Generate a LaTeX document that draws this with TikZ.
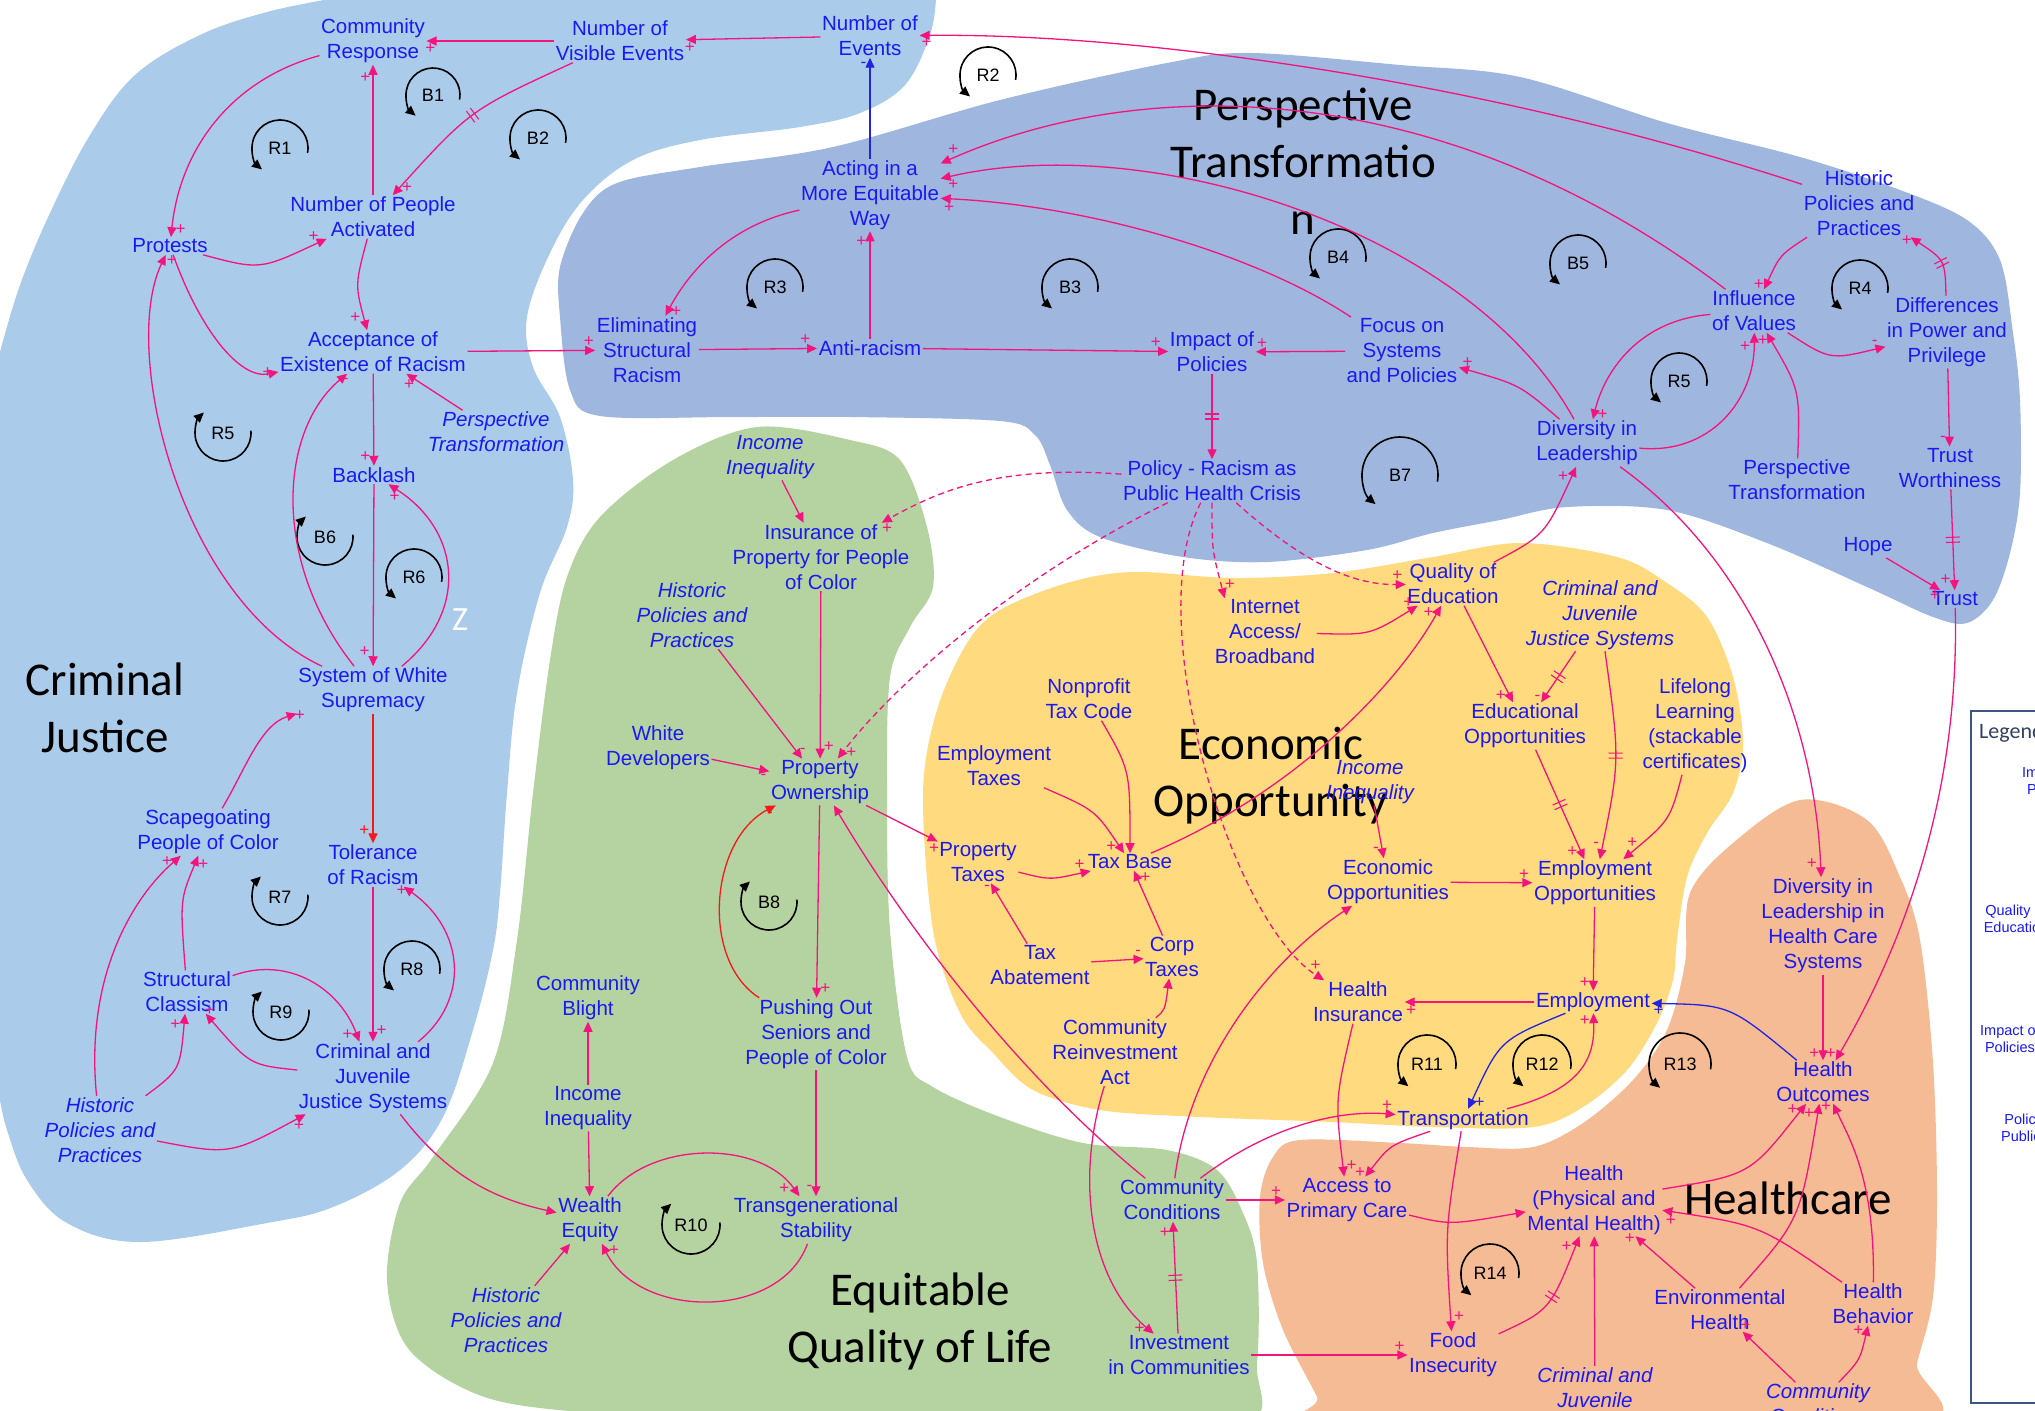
\documentclass[tikz,border=0pt]{standalone}
\usepackage{fontspec}
\usetikzlibrary{arrows.meta,decorations.markings}
\newfontfamily\nodefont{Liberation Sans}
\newfontfamily\titlefont{Carlito}

\definecolor{vblue}{RGB}{25,25,245}
\definecolor{lkpink}{RGB}{245,20,125}
\definecolor{lkblue}{RGB}{35,35,225}
\definecolor{lkred}{RGB}{245,25,25}
\definecolor{cjfill}{RGB}{170,203,233}
\definecolor{ptfill}{RGB}{159,182,222}
\definecolor{eqfill}{RGB}{180,211,160}
\definecolor{eofill}{RGB}{255,218,126}
\definecolor{hcfill}{RGB}{244,187,148}
\definecolor{lgframe}{RGB}{60,85,130}
\definecolor{lgtext}{RGB}{50,65,95}

\tikzset{
  v/.style={text=vblue, font=\nodefont\fontsize{20.5}{25}\selectfont, align=center, inner sep=1.5pt},
  vi/.style={v, font=\nodefont\itshape\fontsize{20.5}{25}\selectfont},
  ttl/.style={text=black, font=\titlefont\fontsize{47}{57}\selectfont, align=center, inner sep=0pt},
  lpl/.style={text=black, font=\nodefont\fontsize{18}{18}\selectfont, inner sep=0pt},
  lpa/.style={draw=black, line width=1.6pt, -{Triangle[length=10pt,width=9pt]}},
  lk/.style={draw=lkpink, line width=1.3pt, -{Triangle[length=10pt,width=9pt]}},
  lkb/.style={lk, draw=lkblue},
  lkr/.style={lk, draw=lkred},
  dsh/.style={dash pattern=on 6pt off 4pt},
  sg/.style={text=lkpink, font=\nodefont\fontsize{17}{17}\selectfont, inner sep=1pt},
  sgb/.style={sg, text=lkblue},
  dl/.style={postaction={decorate, decoration={markings, mark=at position #1 with {\draw[-, solid, draw=lkpink, line width=1.1pt] (-2.5pt,-7pt) -- (-2.5pt,7pt) (2.5pt,-7pt) -- (2.5pt,7pt);}}}},
  dl/.default=0.5,
  lgt/.style={text=vblue, font=\nodefont\fontsize{14.5}{17}\selectfont, align=center, inner sep=0pt},
}

% loop markers: counter-clockwise and clockwise circular arrows around a label
\newcommand\LoopCCW[5]{%
  \node[lpl] (#1) at (#2,#3) {#4};
  \draw[lpa] (#2,#3) ++(10:#5) arc[start angle=10, end angle=-230, radius=#5];}
\newcommand\LoopCW[5]{%
  \node[lpl] (#1) at (#2,#3) {#4};
  \draw[lpa] (#2,#3) ++(-5:#5) arc[start angle=-5, end angle=227, radius=#5];}

\begin{document}
\begin{tikzpicture}[x=1pt,y=-1pt]
\useasboundingbox (0,0) rectangle (2035,1411);
\clip (0,0) rectangle (2035,1411);
\fill[white] (0,0) rectangle (2035,1411);

% ---- sector backgrounds ----
\fill[cjfill] plot[smooth, tension=0.6] coordinates {
 (0,352) (20,285) (50,213) (90,135) (135,75) (200,35) (267,12) (335,-2)}
 -- (335,-25) -- (936,-25) --
 plot[smooth, tension=0.6] coordinates {
 (936,-2) (930,35) (905,85) (860,113) (800,127) (700,140) (633,160) (583,200) (550,253)
 (527,317) (533,367) (560,417) (573,480) (567,527) (540,593) (517,693) (507,793) (500,893)
 (493,950) (473,1030) (443,1117) (400,1170) (333,1207) (267,1223) (140,1242) (67,1223)
 (27,1180) (7,1130) (0,1100)}
 -- (-25,1100) -- (-25,352) -- cycle;

\fill[ptfill] plot[smooth cycle, tension=0.55] coordinates {
 (1000,100) (1167,63) (1250,53) (1400,65) (1520,77) (1667,123) (1800,157) (1900,190)
 (1967,220) (2000,260) (2013,333) (2020,400) (2020,493) (2010,553) (1993,600) (1967,623)
 (1933,617) (1867,587) (1767,543) (1667,510) (1567,507) (1500,520) (1433,533) (1367,550)
 (1267,562) (1183,557) (1100,537) (1067,510) (1050,465) (1035,435) (1000,421) (850,417)
 (733,417) (600,416) (570,390) (560,317) (560,267) (583,213) (617,183) (700,167) (833,147)};

\fill[eqfill] plot[smooth cycle, tension=0.55] coordinates {
 (757,427) (850,440) (900,460) (927,527) (933,587) (910,627) (890,677) (887,793) (890,930)
 (907,1057) (933,1087) (1000,1117) (1083,1143) (1167,1150) (1217,1170) (1243,1213)
 (1257,1263) (1257,1363) (1240,1425) (1000,1422) (700,1418) (540,1408) (467,1390)
 (407,1347) (387,1280) (400,1203) (433,1157) (493,1063) (517,940) (533,793) (550,660)
 (567,577) (600,517) (673,460)};

\fill[eofill] plot[smooth cycle, tension=0.55] coordinates {
 (1000,610) (1067,583) (1133,572) (1233,578) (1333,573) (1433,557) (1520,543) (1617,557)
 (1667,583) (1707,617) (1733,677) (1743,743) (1733,793) (1707,833) (1687,877) (1677,940)
 (1673,980) (1657,1023) (1627,1070) (1583,1107) (1533,1127) (1433,1127) (1333,1122)
 (1200,1117) (1100,1110) (1033,1090) (993,1053) (960,1013) (933,930) (923,793) (937,710)
 (967,643)};

\fill[hcfill] plot[smooth cycle, tension=0.55] coordinates {
 (1800,800) (1867,820) (1900,877) (1920,940) (1933,1063) (1937,1197) (1933,1297)
 (1917,1363) (1900,1430) (1330,1430) (1317,1397) (1283,1330) (1263,1263) (1260,1197)
 (1273,1157) (1300,1140) (1400,1143) (1467,1147) (1533,1147) (1583,1123) (1633,1080)
 (1667,1030) (1685,963) (1690,893) (1733,843)};

% ---- sector titles ----
\node[ttl] (tcj) at (105,708) {Criminal\\Justice};
\node[ttl] (tpt) at (1303,161) {Perspective\\Transformatio\\n};
\node[ttl] (teq) at (920,1321) {Equitable\\Quality of Life};
\node[ttl] (teo) at (1271,776) {Economic\\Opportunity};
\node[ttl] (thc) at (1788,1198) {Healthcare};
\node[text=white, font=\titlefont\fontsize{34}{34}\selectfont, inner sep=0pt] (zmark) at (460,620) {Z};

% ---- legend panel ----
\draw[lgframe, line width=2pt] (1971,711) rectangle (2060,1403);
\node[anchor=west, text=lgtext, font=\titlefont\fontsize{22}{22}\selectfont, inner sep=0pt] (lgh) at (1979,733) {Legend};
\node[lgt] (lg1) at (2052,781) {Impact of\\Policies};
\node[lgt] (lg2) at (2016,919) {Quality of\\Education};
\node[lgt] (lg3) at (2010,1039) {Impact of\\Policies};
\node[lgt] (lg4) at (2064,1128) {Policy - Racism as\\Public Health Crisis};

% ---- feedback loop markers ----
\LoopCCW{lR1}{280}{148}{R1}{28}
\LoopCCW{lB1}{433}{95}{B1}{27}
\LoopCCW{lB2}{538}{138}{B2}{28}
\LoopCCW{lR2}{988}{75}{R2}{28}
\LoopCCW{lR3}{775}{287}{R3}{28}
\LoopCCW{lB3}{1070}{287}{B3}{28}
\LoopCCW{lB4}{1338}{257}{B4}{28}
\LoopCCW{lB5}{1578}{263}{B5}{28}
\LoopCCW{lR4}{1860}{288}{R4}{28}
\LoopCCW{lR5b}{1679}{381}{R5}{28}
\LoopCCW{lB7}{1400}{475}{B7}{38}
\LoopCCW{lR6}{414}{577}{R6}{28}
\LoopCCW{lR8}{412}{969}{R8}{28}
\LoopCCW{lR11}{1427}{1064}{R11}{29}
\LoopCCW{lR12}{1542}{1064}{R12}{29}
\LoopCCW{lR13}{1680}{1064}{R13}{31}
\LoopCCW{lR14}{1490}{1273}{R14}{29}
\LoopCW{lR5a}{223}{433}{R5}{28}
\LoopCW{lB6}{325}{537}{B6}{28}
\LoopCW{lR7}{280}{897}{R7}{28}
\LoopCW{lR9}{281}{1012}{R9}{28}
\LoopCW{lB8}{769}{902}{B8}{28}
\LoopCW{lR10}{691}{1225}{R10}{29}

% ---- variables ----
\node[v] (cr) at (373,41) {Community\\Response};
\node[v] (nve) at (620,41) {Number of\\Visible Events};
\node[v] (noe) at (870,36) {Number of\\Events};
\node[v] (npa) at (373,217) {Number of People\\Activated};
\node[v] (prot) at (170,246) {Protests};
\node[v] (acc) at (373,352) {Acceptance of\\Existence of Racism};
\node[vi] (ptl) at (496,432) {Perspective\\Transformation};
\node[v] (bl) at (374,475) {Backlash};
\node[v] (sws) at (373,690) {System of White\\Supremacy};
\node[v] (scp) at (208,832) {Scapegoating\\People of Color};
\node[v] (tol) at (373,865) {Tolerance\\of Racism};
\node[v] (sc) at (187,992) {Structural\\Classism};
\node[v] (cjj) at (373,1078) {Criminal and\\Juvenile\\Justice Systems};
\node[vi] (hpl) at (100,1130) {Historic\\Policies and\\Practices};
\node[v] (act) at (870,195) {Acting in a\\More Equitable\\Way};
\node[v] (esr) at (647,350) {Eliminating\\Structural\\Racism};
\node[v] (ar) at (870,348) {Anti-racism};
\node[v] (imp) at (1212,352) {Impact of\\Policies};
\node[v] (foc) at (1402,351) {Focus on\\Systems\\and Policies};
\node[v] (pol) at (1212,481) {Policy - Racism as\\Public Health Crisis};
\node[v] (hpt) at (1859,203) {Historic\\Policies and\\Practices};
\node[v] (inf) at (1754,311) {Influence\\of Values};
\node[v] (dpp) at (1947,332) {Differences\\in Power and\\Privilege};
\node[v] (dil) at (1587,443) {Diversity in\\Leadership};
\node[v] (ptr) at (1797,480) {Perspective\\Transformation};
\node[v] (tw) at (1950,468) {Trust\\Worthiness};
\node[v] (hope) at (1868,547) {Hope};
\node[v] (trust) at (1955,599) {Trust};
\node[vi] (ii1) at (770,457) {Income\\Inequality};
\node[v] (ins) at (821,557) {Insurance of\\Property for People\\of Color};
\node[vi] (hpg) at (692,615) {Historic\\Policies and\\Practices};
\node[v] (wd) at (658,748) {White\\Developers};
\node[v] (po) at (820,782) {Property\\Ownership};
\node[v] (pso) at (816,1034) {Pushing Out\\Seniors and\\People of Color};
\node[v] (cb) at (588,998) {Community\\Blight};
\node[v] (ii2) at (588,1108) {Income\\Inequality};
\node[v] (we) at (590,1220) {Wealth\\Equity};
\node[v] (ts) at (816,1220) {Transgenerational\\Stability};
\node[vi] (hpb) at (506,1320) {Historic\\Policies and\\Practices};
\node[v] (cc) at (1172,1200) {Community\\Conditions};
\node[v] (ic) at (1179,1355) {Investment\\in Communities};
\node[v] (et) at (994,766) {Employment\\Taxes};
\node[v] (pt) at (978,862) {Property\\Taxes};
\node[v] (ntc) at (1089,699) {Nonprofit\\Tax Code};
\node[v] (tb) at (1130,862) {Tax Base};
\node[v] (ta) at (1040,965) {Tax\\Abatement};
\node[v] (ct) at (1172,957) {Corp\\Taxes};
\node[v] (cra) at (1115,1052) {Community\\Reinvestment\\Act};
\node[v] (iab) at (1265,632) {Internet\\Access/\\Broadband};
\node[v] (qe) at (1453,584) {Quality of\\Education};
\node[vi] (ii3) at (1370,782) {Income\\Inequality};
\node[v] (eco) at (1388,882) {Economic\\Opportunities};
\node[v] (edo) at (1525,726) {Educational\\Opportunities};
\node[vi] (cjy) at (1600,615) {Criminal and\\Juvenile\\Justice Systems};
\node[v] (ll) at (1695,726) {Lifelong\\Learning\\(stackable\\certificates)};
\node[v] (emo) at (1595,883) {Employment\\Opportunities};
\node[v] (emp) at (1593,1002) {Employment};
\node[v] (hi) at (1358,1002) {Health\\Insurance};
\node[v] (tr) at (1463,1120) {Transportation};
\node[v] (apc) at (1347,1200) {Access to\\Primary Care};
\node[v] (fi) at (1453,1355) {Food\\Insecurity};
\node[v] (dlh) at (1823,926) {Diversity in\\Leadership in\\Health Care\\Systems};
\node[v] (ho) at (1823,1082) {Health\\Outcomes};
\node[v] (hpm) at (1594,1200) {Health\\(Physical and\\Mental Health)};
\node[v] (eh) at (1720,1310) {Environmental\\Health};
\node[v] (hb) at (1873,1304) {Health\\Behavior};
\node[vi] (cjb) at (1595,1402) {Criminal and\\Juvenile\\Justice Systems};
\node[vi] (ccb) at (1818,1404) {Community\\Conditions};

% ---- criminal justice links ----
\draw[lk] (nve) -- (cr) node[sg,pos=.97,below=1pt]{+};
\draw[lk] (noe) -- (nve) node[sg,pos=.97,below=1pt]{+};
\draw[lk] (hpt) .. controls (1500,85) and (1150,33) .. (noe) node[sg,pos=.99,below=1pt]{+};
\draw[lk,dl] (nve) .. controls (470,110) .. (npa) node[sg,pos=.97,right=1pt]{+};
\draw[lk] (npa) -- (cr) node[sg,pos=.9,left=1pt]{+};
\draw[lk] (cr) .. controls (230,80) and (180,150) .. (prot) node[sg,pos=.97,right=2pt]{+};
\draw[lk] (prot) .. controls (260,270) .. (npa) node[sg,pos=.93,above=2pt]{+};
\draw[lk] (prot) .. controls (200,330) and (240,380) .. (acc) node[sg,pos=.98,left=2pt]{+};
\draw[lk] (npa) .. controls (355,285) .. (acc) node[sg,pos=.9,left=2pt]{+};
\draw[lk] (acc) -- (bl) node[sg,pos=.9,left=2pt]{+};
\draw[lk] (ptl) -- (acc) node[sg,pos=.95,below=2pt]{+};
\draw[lk] (acc) -- (esr) node[sg,pos=.95,above=2pt]{+};
\draw[lk] (sws) .. controls (180,600) and (120,350) .. (prot) node[sg,pos=.98,right=2pt]{+};
\draw[lk] (sws) .. controls (270,560) and (280,430) .. (acc) node[sg,pos=.96,right=2pt]{-};
\draw[lk] (bl) -- (sws) node[sg,pos=.92,left=2pt]{+};
\draw[lk] (sws) .. controls (470,610) and (460,530) .. (bl) node[sg,pos=.97,below=2pt]{+};
\draw[lkr] (sws) -- (tol) node[sg,pos=.9,left=2pt,text=lkred]{+};
\draw[lk] (scp) .. controls (245,770) and (260,725) .. (sws) node[sg,pos=.95,right=2pt]{+};
\draw[lk] (tol) -- (cjj) node[sg,pos=.93,right=2pt]{+};
\draw[lk] (cjj) .. controls (470,1000) and (465,930) .. (tol) node[sg,pos=.97,left=1pt]{+};
\draw[lk] (sc) .. controls (290,955) and (340,990) .. (cjj) node[sg,pos=.95,left=2pt]{+};
\draw[lk] (cjj) .. controls (250,1065) .. (sc) node[sg,pos=.97,above=1pt]{+};
\draw[lk] (sc) .. controls (180,900) .. (scp) node[sg,pos=.93,right=2pt]{+};
\draw[lk] (hpl) .. controls (85,980) and (130,900) .. (scp) node[sg,pos=.96,left=1pt]{+};
\draw[lk] (hpl) .. controls (180,1070) .. (sc) node[sg,pos=.93,left=2pt]{+};
\draw[lk] (hpl) .. controls (230,1155) .. (cjj) node[sg,pos=.97,below=1pt]{+};
\draw[lk] (cjj) .. controls (450,1180) and (500,1200) .. (we);

% ---- perspective transformation links ----
\draw[lkb] (act) -- (noe) node[sgb,pos=.93,left=2pt]{-};
\draw[lk] (act) .. controls (730,225) and (690,270) .. (esr) node[sg,pos=.97,right=2pt]{+};
\draw[lk] (esr) -- (ar) node[sg,pos=.9,above=2pt]{+};
\draw[lk] (ar) -- (act) node[sg,pos=.9,left=2pt]{+};
\draw[lk] (ar) -- (imp) node[sg,pos=.95,above=2pt]{+};
\draw[lk] (foc) -- (imp) node[sg,pos=.93,above=2pt]{+};
\draw[lk,dl] (imp) -- (pol);
\draw[lk] (inf) .. controls (1450,80) and (1150,70) .. (act) node[sg,pos=.98,above=2pt]{+};
\draw[lk] (dil) .. controls (1470,230) and (1150,130) .. (act) node[sg,pos=.98,below=2pt]{+};
\draw[lk] (foc) .. controls (1250,250) and (1080,205) .. (act) node[sg,pos=.98,below=2pt]{+};
\draw[lk] (dil) .. controls (1520,385) .. (foc) node[sg,pos=.95,above=1pt]{+};
\draw[lk] (hpt) .. controls (1780,255) .. (inf) node[sg,pos=.95,left=1pt]{+};
\draw[lk,dl=.45] (dpp) .. controls (1945,260) .. (hpt) node[sg,pos=.95,left=2pt]{+};
\draw[lk] (inf) .. controls (1830,360) .. (dpp) node[sg,pos=.93,above=2pt]{-};
\draw[lk] (dpp) -- (tw) node[sg,pos=.9,left=2pt]{-};
\draw[lk] (inf) .. controls (1640,320) and (1605,370) .. (dil) node[sg,pos=.97,right=2pt]{+};
\draw[lk] (dil) .. controls (1710,455) and (1755,400) .. (inf) node[sg,pos=.93,left=2pt]{+};
\draw[lk] (ptr) .. controls (1800,390) .. (inf) node[sg,pos=.95,left=2pt]{+};
\draw[lk,dl] (tw) -- (trust) node[sg,pos=.9,left=2pt]{+};
\draw[lk] (hope) -- (trust) node[sg,pos=.9,below=2pt]{+};
\draw[lk] (trust) .. controls (1960,800) and (1900,950) .. (ho) node[sg,pos=.98,left=2pt]{+};
\draw[lk] (dil) .. controls (1750,560) and (1815,720) .. (dlh) node[sg,pos=.97,left=2pt]{+};
\draw[lk] (qe) .. controls (1545,535) .. (dil) node[sg,pos=.95,left=2pt]{+};
\draw[lk,dsh] (pol) .. controls (1000,465) and (940,490) .. (ins) node[sg,pos=.97,below=2pt]{+};
\draw[lk,dsh] (pol) .. controls (1010,580) and (890,690) .. (po) node[sg,pos=.97,right=2pt]{+};
\draw[lk,dsh] (pol) .. controls (1140,620) and (1230,920) .. (hi) node[sg,pos=.97,above=2pt]{+};
\draw[lk,dsh] (pol) .. controls (1212,550) .. (iab.140) node[sg,pos=.9,right=2pt]{+};
\draw[lk,dsh] (pol) .. controls (1300,560) and (1350,585) .. (qe) node[sg,pos=.95,above=2pt]{+};

% ---- quality of life links ----
\draw[lk] (ii1) -- (ins);
\draw[lk] (ins) -- (po) node[sg,pos=.93,right=2pt]{+};
\draw[lk] (hpg) -- (po) node[sg,pos=.93,right=2pt]{-};
\draw[lk] (wd) -- (po) node[sg,pos=.9,below=2pt]{-};
\draw[lk] (po) -- (pt) node[sg,pos=.95,below=2pt]{+};
\draw[lk] (po) -- (pso) node[sg,pos=.95,right=2pt]{+};
\draw[lkr] (pso) .. controls (700,960) and (710,840) .. (po) node[sg,pos=.97,below=2pt,text=lkred]{-};
\draw[lk] (pso) -- (ts) node[sg,pos=.93,left=2pt]{-};
\draw[lk] (cc) .. controls (1000,1060) and (890,900) .. (po);
\draw[lk] (ii2) -- (cb);
\draw[lk] (ii2) -- (we);
\draw[lk] (we) .. controls (650,1140) and (760,1140) .. (ts) node[sg,pos=.95,left=2pt]{+};
\draw[lk] (ts) .. controls (780,1320) and (640,1320) .. (we) node[sg,pos=.97,right=2pt]{+};
\draw[lk] (hpb) -- (we);
\draw[lk,dl] (ic) -- (cc) node[sg,pos=.9,left=2pt]{+};
\draw[lk] (cra) .. controls (1075,1180) and (1090,1280) .. (ic) node[sg,pos=.97,left=2pt]{+};
\draw[lk] (cra) .. controls (1165,1010) .. (ct);
\draw[lk] (cc) -- (apc) node[sg,pos=.85,above=2pt]{+};
\draw[lk] (cc) .. controls (1270,1125) and (1340,1110) .. (tr) node[sg,pos=.95,above=2pt]{+};
\draw[lk] (cc) .. controls (1190,1060) and (1270,960) .. (eco);
\draw[lk] (ic) -- (fi) node[sg,pos=.95,above=2pt]{+};

% ---- economic opportunity links ----
\draw[lk] (et) .. controls (1095,810) .. (tb) node[sg,pos=.95,left=2pt]{+};
\draw[lk] (ntc) .. controls (1130,770) .. (tb);
\draw[lk] (pt) .. controls (1050,880) .. (tb) node[sg,pos=.9,above=2pt]{+};
\draw[lk] (tb) .. controls (1300,790) and (1400,680) .. (qe) node[sg,pos=.97,left=2pt]{+};
\draw[lk] (ct) -- (tb) node[sg,pos=.9,right=2pt]{+};
\draw[lk] (ta) -- (pt) node[sg,pos=.93,left=2pt]{-};
\draw[lk] (ta) -- (ct) node[sg,pos=.9,above=2pt]{-};
\draw[lk] (iab) .. controls (1370,635) .. (qe) node[sg,pos=.93,above=2pt]{+};
\draw[lk] (qe) -- (edo) node[sg,pos=.93,left=2pt]{+};
\draw[lk,dl] (cjy) -- (edo) node[sg,pos=.92,left=2pt]{-};
\draw[lk,dl] (cjy) .. controls (1620,760) .. (emo) node[sg,pos=.95,left=2pt]{-};
\draw[lk,dl] (edo) -- (emo) node[sg,pos=.93,left=2pt]{+};
\draw[lk] (ll) .. controls (1670,820) .. (emo) node[sg,pos=.93,above=2pt]{+};
\draw[lk] (eco) -- (emo) node[sg,pos=.9,above=2pt]{+};
\draw[lk] (ii3) -- (eco) node[sg,pos=.85,left=2pt]{-};
\draw[lk] (emo) -- (emp) node[sg,pos=.9,left=2pt]{+};
\draw[lk] (emp) -- (hi) node[sg,pos=.95,below=2pt]{+};
\draw[lk] (hi) .. controls (1335,1100) .. (apc) node[sg,pos=.95,right=2pt]{+};
\draw[lk] (tr) .. controls (1390,1145) .. (apc) node[sg,pos=.95,left=2pt]{+};
\draw[lk] (tr) .. controls (1580,1090) and (1595,1060) .. (emp) node[sg,pos=.95,left=2pt]{+};
\draw[lkb] (emp) .. controls (1500,1040) .. (tr) node[sgb,pos=.97,right=2pt]{+};
\draw[lkb] (ho) .. controls (1730,1005) .. (emp) node[sgb,pos=.97,below=1pt]{+};
\draw[lk] (tr) .. controls (1445,1230) .. (fi) node[sg,pos=.95,right=2pt]{+};

% ---- healthcare links ----
\draw[lk] (apc) .. controls (1450,1225) .. (hpm);
\draw[lk,dl] (fi) .. controls (1550,1310) .. (hpm) node[sg,pos=.95,left=2pt]{+};
\draw[lk] (cjb) -- (hpm);
\draw[lk] (eh) -- (hpm) node[sg,pos=.95,left=2pt]{+};
\draw[lk] (hb) .. controls (1760,1225) .. (hpm) node[sg,pos=.97,below=2pt]{+};
\draw[lk] (hpm) .. controls (1750,1175) .. (ho) node[sg,pos=.97,left=2pt]{+};
\draw[lk] (eh) .. controls (1800,1220) .. (ho) node[sg,pos=.97,left=2pt]{+};
\draw[lk] (hb) .. controls (1875,1180) and (1850,1140) .. (ho) node[sg,pos=.97,left=2pt]{+};
\draw[lk] (dlh) -- (ho) node[sg,pos=.92,left=2pt]{+};
\draw[lk] (ccb) -- (eh) node[sg,pos=.95,above=2pt]{+};
\draw[lk] (ccb) .. controls (1860,1360) .. (hb) node[sg,pos=.95,left=2pt]{+};
\end{tikzpicture}
\end{document}
